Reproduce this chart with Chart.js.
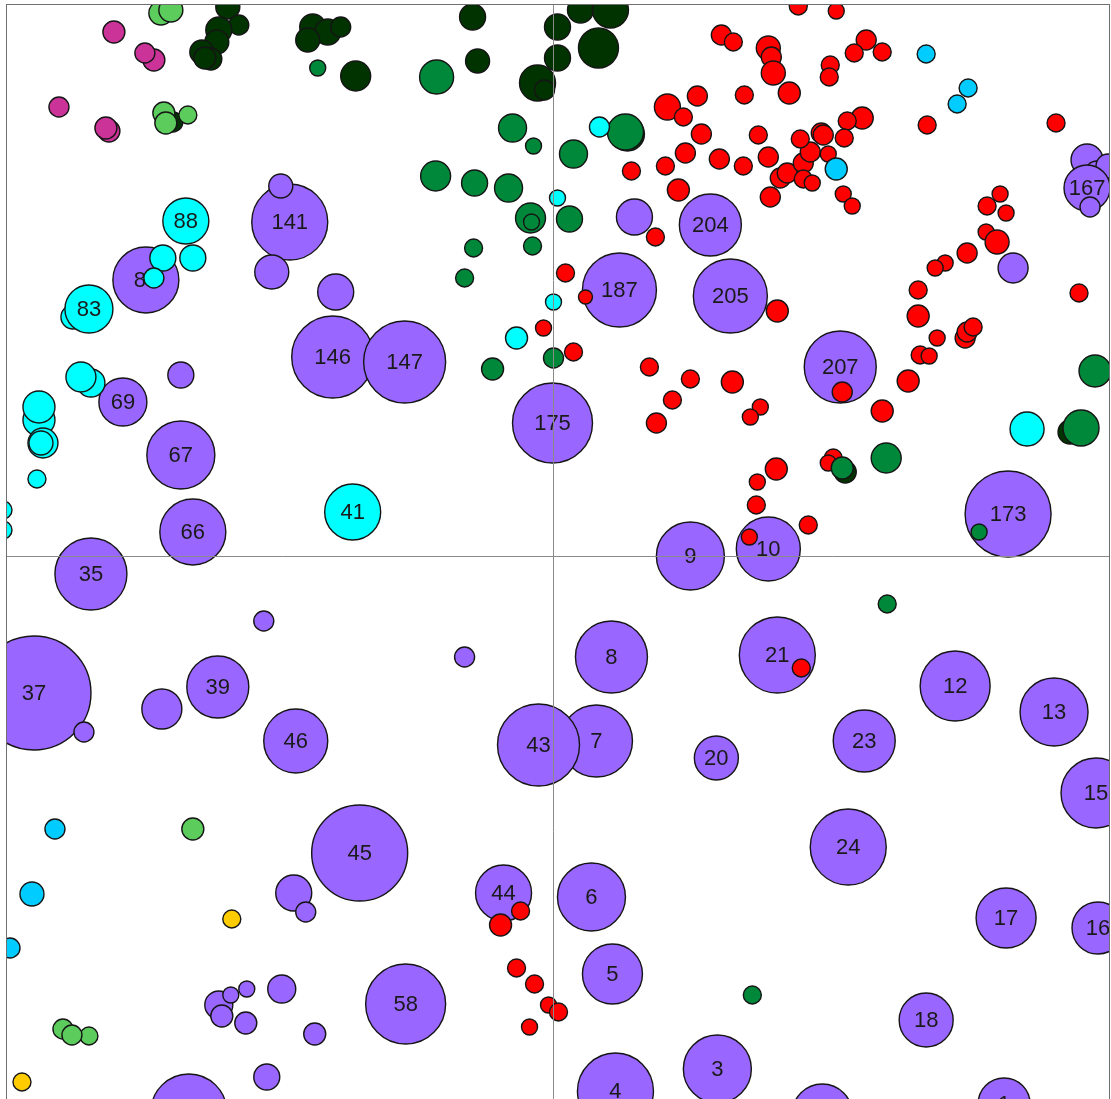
<!DOCTYPE html>
<html>
<head>
<meta charset="utf-8">
<script src="https://cdn.jsdelivr.net/npm/chart.js@4/dist/chart.umd.min.js"></script>
<style>
  html, body { margin: 0; padding: 0; background: #fff; overflow: hidden; }
</style>
</head>
<body>
<canvas id="bubbles" width="1111" height="1108"></canvas>
<script>
// [x, y, r, label] — x/y, centred on the crosshair
const purplePoints = [
  [-263, 334, 38, '141'], [-272, 370, 12], [-281, 284, 17], [-407, 276, 33, '86'],
  [-217, 264, 18], [-220, 199, 41, '146'], [-148, 194, 41, '147'], [-372, 181, 13],
  [-430, 154, 24, '69'], [-372, 101, 34, '67'], [-360, 24, 33, '66'], [-462, -18, 36, '35'],
  [-289, -65, 10], [-88, -101, 10], [-519, -137, 57, '37'], [-469, -176, 10],
  [-391, -153, 20], [-335, -131, 31, '39'], [-257, -185, 32, '46'], [44, -185, 36, '7'],
  [-14, -189, 41, '43'], [-193, -297, 48, '45'], [-259, -337, 18], [-247, -356, 10],
  [-49, -337, 28, '44'], [-334, -449, 14], [-322, -439, 8], [-306, -433, 8],
  [-331, -460, 11], [-307, -467, 11], [-271, -433, 14], [-238, -478, 11],
  [-147, -448, 40, '58'], [-286, -521, 13], [-364, -556, 38],
  [0, 133, 40, '175'], [67, 266, 37, '187'], [82, 339, 18], [158, 331, 31, '204'],
  [178, 260, 37, '205'], [288, 189, 36, '207'], [138, 0, 34, '9'], [216, 7, 32, '10'],
  [456, 42, 43, '173'], [461, 288, 15], [535, 396, 16], [545, 383, 12], [556, 390, 12],
  [535, 368, 23, '167'], [538, 349, 10],
  [59, -101, 36, '8'], [225, -99, 38, '21'], [403, -130, 35, '12'], [502, -156, 34, '13'],
  [164, -202, 22, '20'], [312, -185, 31, '23'], [544, -237, 35, '15'], [296, -291, 38, '24'],
  [39, -341, 34, '6'], [454, -362, 30, '17'], [546, -372, 26, '16'], [60, -418, 30, '5'],
  [374, -464, 27, '18'], [165, -513, 34, '3'], [63, -535, 38, '4'], [270, -558, 30],
  [452, -548, 26, '1']
];

const darkGreenPoints = [
  [-325, 549, 12], [-314, 531, 10], [-334, 526, 13], [-336, 514, 12], [-351, 504, 12],
  [-342, 497, 11], [-348, 498, 11], [-380, 434, 10], [-240, 529, 13], [-225, 524, 13],
  [-212, 529, 10], [-245, 516, 12], [-197, 480, 15], [-80, 539, 13], [-75, 495, 12],
  [5, 529, 13], [5, 498, 13], [-15, 473, 18], [-8, 466, 10], [28, 546, 13],
  [58, 546, 18], [46, 508, 20], [75, 422, 17], [518, 124, 12], [293, 84, 11]
];

const redPoints = [
  [246, 550, 9], [284, 545, 8], [169, 521, 10], [181, 514, 9], [216, 508, 12],
  [219, 499, 10], [221, 483, 12], [237, 463, 11], [115, 449, 13], [131, 439, 9],
  [145, 460, 10], [192, 461, 9], [149, 422, 10], [206, 421, 9], [133, 403, 10],
  [167, 397, 10], [191, 390, 9], [216, 399, 10], [113, 390, 9], [79, 385, 9],
  [126, 366, 11], [218, 359, 10], [228, 378, 10], [235, 383, 10], [251, 393, 10],
  [258, 404, 10], [248, 417, 9], [269, 423, 10], [251, 377, 9], [260, 373, 8],
  [314, 516, 10], [302, 503, 9], [330, 504, 9], [278, 491, 9], [277, 479, 9],
  [375, 431, 9], [504, 433, 9], [310, 438, 11], [295, 435, 9], [271, 421, 10],
  [292, 418, 9], [276, 402, 8], [291, 362, 8], [300, 350, 8], [103, 319, 9],
  [448, 362, 8], [435, 350, 9], [454, 343, 8], [434, 324, 8], [445, 314, 12],
  [415, 303, 10], [393, 293, 8], [383, 288, 8], [13, 283, 9], [33, 259, 7],
  [-9, 228, 8], [21, 204, 9], [225, 245, 11], [366, 266, 9], [366, 240, 11],
  [385, 218, 8], [368, 201, 9], [377, 200, 8], [356, 175, 11], [330, 145, 11],
  [413, 218, 10], [415, 224, 10], [421, 229, 9], [527, 263, 9], [290, 164, 10],
  [97, 189, 9], [138, 177, 9], [180, 174, 11], [120, 156, 9], [104, 133, 10],
  [208, 149, 8], [198, 139, 8], [281, 98, 9], [276, 93, 8], [224, 87, 11],
  [205, 74, 8], [204, 51, 9], [256, 31, 9], [197, 19, 8], [249, -112, 9],
  [-32, -355, 9], [-52, -369, 11], [-36, -412, 9], [-18, -428, 9], [-4, -449, 8],
  [6, -456, 9], [-23, -471, 8]
];

const greenPoints = [
  [-235, 488, 8], [-116, 479, 17], [-40, 428, 14], [-19, 410, 8], [-117, 380, 15],
  [-78, 373, 13], [-44, 368, 14], [-22, 338, 15], [-21, 334, 8], [-79, 308, 9],
  [-20, 310, 9], [-88, 278, 9], [73, 424, 18], [21, 402, 14], [17, 337, 13],
  [1, 198, 10], [-60, 187, 11], [543, 185, 16], [529, 128, 18], [334, 98, 15],
  [290, 88, 11], [427, 24, 8], [335, -48, 9], [200, -439, 9]
];

const lightGreenPoints = [
  [-392, 543, 12], [-382, 546, 12], [-389, 443, 11], [-365, 441, 9], [-387, 433, 11],
  [-360, -273, 11], [-490, -473, 10], [-464, -480, 9], [-481, -479, 10]
];

const magentaPoints = [
  [-439, 524, 11], [-399, 496, 11], [-408, 503, 10], [-494, 449, 10],
  [-444, 425, 11], [-447, 428, 11]
];

const cyanPoints = [
  [-367, 335, 23, '88'], [-390, 298, 13], [-360, 298, 13], [-399, 278, 10],
  [-480, 239, 12], [-464, 247, 24, '83'], [-462, 173, 14], [-472, 179, 15],
  [-514, 136, 16], [-514, 149, 16], [-510, 113, 15], [-512, 113, 12], [-516, 77, 9],
  [-550, 46, 9], [-550, 26, 9], [-200, 44, 28, '41'], [5, 358, 8], [1, 254, 8],
  [-36, 218, 11], [47, 429, 10], [475, 127, 17]
];

const skyPoints = [
  [374, 502, 9], [416, 468, 9], [405, 452, 9], [284, 387, 11],
  [-498, -273, 10], [-521, -338, 12], [-543, -392, 10]
];

const goldPoints = [[-321, -363, 9], [-531, -526, 9]];

const toPoints = arr => arr.map(([x, y, r]) => ({ x, y, r }));
const toLabels = arr => arr.map(p => p[3] || null);

// order: higher number sits further back
function group(points, color, order) {
  return {
    data: toPoints(points),
    labels: toLabels(points),
    backgroundColor: color,
    borderColor: '#151515',
    borderWidth: 1.4,
    hoverRadius: 0,
    hoverBorderWidth: 1.4,
    clip: 0,
    order
  };
}

const bubbleLabels = {
  id: 'bubbleLabels',
  afterDatasetDraw(chart, args) {
    const labels = chart.data.datasets[args.index].labels;
    if (!labels || !labels.some(Boolean)) return;
    const { ctx, chartArea: a } = chart;
    ctx.save();
    ctx.beginPath();
    ctx.rect(a.left, a.top, a.right - a.left, a.bottom - a.top);
    ctx.clip();
    ctx.font = '22px "Liberation Sans", Arial, sans-serif';
    ctx.fillStyle = '#1a1a1a';
    ctx.textAlign = 'center';
    ctx.textBaseline = 'middle';
    args.meta.data.forEach((el, i) => {
      if (labels[i]) ctx.fillText(labels[i], el.x, el.y + 1);
    });
    ctx.restore();
  }
};

const frame = {
  id: 'frame',
  afterDatasetsDraw(chart) {
    const { ctx, chartArea: a, scales } = chart;
    const x0 = Math.round(scales.x.getPixelForValue(0)) + 0.5;
    const y0 = Math.round(scales.y.getPixelForValue(0)) + 0.5;
    ctx.save();
    ctx.lineWidth = 1;
    ctx.strokeStyle = '#8a8a8a';
    ctx.beginPath();
    ctx.moveTo(x0, a.top);
    ctx.lineTo(x0, a.bottom);
    ctx.moveTo(a.left, y0);
    ctx.lineTo(a.right, y0);
    ctx.stroke();
    ctx.strokeStyle = '#707070';
    ctx.strokeRect(a.left - 0.5, a.top - 0.5, a.right - a.left + 1, a.bottom - a.top + 1);
    ctx.restore();
  }
};

new Chart(document.getElementById('bubbles'), {
  type: 'bubble',
  data: {
    datasets: [
      group(purplePoints, '#9966ff', 8),
      group(darkGreenPoints, '#003300', 7),
      group(redPoints, '#ff0000', 6),
      group(greenPoints, '#00883a', 5),
      group(lightGreenPoints, '#5ccc5c', 4),
      group(magentaPoints, '#cc3399', 3),
      group(cyanPoints, '#00ffff', 2),
      group(skyPoints, '#00ccff', 1),
      group(goldPoints, '#ffcc00', 0)
    ]
  },
  options: {
    responsive: false,
    animation: false,
    devicePixelRatio: 1,
    layout: { autoPadding: false, padding: { left: 7, top: 5, right: 2, bottom: 1 } },
    scales: {
      x: { type: 'linear', min: -546, max: 557, display: false },
      y: { type: 'linear', min: -551, max: 551, display: false }
    },
    plugins: {
      legend: { display: false },
      tooltip: { enabled: false }
    },
    events: []
  },
  plugins: [bubbleLabels, frame]
});
</script>
</body>
</html>
